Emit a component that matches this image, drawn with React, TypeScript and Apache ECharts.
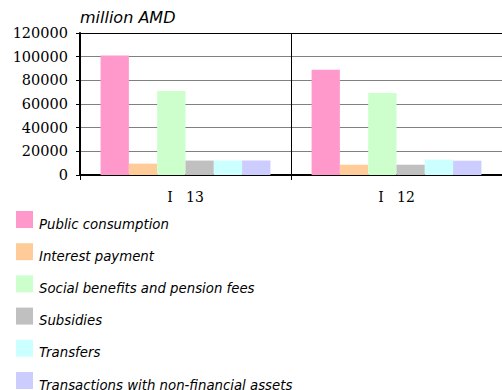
import React, { useEffect, useRef } from "react";
import * as echarts from "echarts";

// Budget expenditure by economic type, million AMD
const periods = ["I   13", "I   12"];
const seriesNames = [
  "Public consumption",
  "Interest payment",
  "Social benefits and pension fees",
  "Subsidies",
  "Transfers",
  "Transactions with non-financial assets",
];
const seriesColors = ["#FF99CC", "#FFCC99", "#CCFFCC", "#C0C0C0", "#CCFFFF", "#CCCCFF"];
const publicConsumption = [101000, 89000];
const interestPayment = [9600, 8700];
const socialBenefits = [71000, 69200];
const subsidies = [12200, 8700];
const transfers = [12200, 13000];
const nonFinancialAssets = [12200, 12100];
const seriesValues = [
  publicConsumption,
  interestPayment,
  socialBenefits,
  subsidies,
  transfers,
  nonFinancialAssets,
];
const unitLabel = "million AMD";

export default function App() {
  const ref = useRef<HTMLDivElement>(null);

  useEffect(() => {
    if (!ref.current) return;
    const chart = echarts.init(ref.current, null, { renderer: "svg" });
    const serif = "DejaVu Serif";
    const sans = "DejaVu Sans";
    chart.setOption({
      animation: false,
      backgroundColor: "#ffffff",
      title: {
        text: unitLabel,
        left: 80,
        top: 9,
        padding: 0,
        textStyle: {
          fontFamily: sans,
          fontStyle: "italic",
          fontWeight: "normal",
          fontSize: 16,
          color: "#000",
        },
      },
      legend: {
        orient: "vertical",
        left: 16,
        top: 211,
        height: 200,
        padding: 0,
        itemWidth: 17,
        itemHeight: 17,
        itemGap: 12.7,
        icon: "rect",
        selectedMode: false,
        data: seriesNames,
        formatter: "{t|{name}}",
        textStyle: {
          fontFamily: sans,
          fontStyle: "italic",
          fontSize: 13.3,
          color: "#000",
          rich: {
            t: {
              fontFamily: sans,
              fontStyle: "italic",
              fontSize: 13.3,
              color: "#000",
              padding: [9, 0, 0, 1],
            },
          },
        },
      },
      grid: {
        left: 80,
        right: -2,
        top: 33,
        height: 142,
        containLabel: false,
      },
      xAxis: {
        type: "category",
        data: periods,
        axisLine: { show: true, lineStyle: { color: "#000", width: 2 } },
        axisTick: { show: true, length: 5, lineStyle: { color: "#000", width: 1 } },
        splitLine: { show: true, lineStyle: { color: "#000", width: 1 } },
        axisLabel: {
          margin: 15,
          fontFamily: serif,
          fontSize: 14,
          color: "#000",
        },
      },
      yAxis: {
        type: "value",
        min: 0,
        max: 120000,
        interval: 20000,
        axisLine: { show: true, lineStyle: { color: "#000", width: 2 } },
        axisTick: { show: true, length: 4, lineStyle: { color: "#000", width: 1 } },
        splitLine: {
          show: true,
          lineStyle: {
            color: ["#808080", "#808080", "#808080", "#808080", "#808080", "#808080", "#000"],
            width: 1.2,
          },
        },
        axisLabel: {
          margin: 12,
          fontFamily: serif,
          fontSize: 14.5,
          color: "#000",
          formatter: (v: number) => String(v),
        },
      },
      series: seriesNames.map((name, i) => ({
        name,
        type: "bar",
        data: seriesValues[i],
        barGap: "0%",
        barCategoryGap: "19.5%",
        itemStyle: { color: seriesColors[i] },
      })),
    });
    return () => chart.dispose();
  }, []);

  return (
    <div
      ref={ref}
      style={{ position: "absolute", left: 0, top: 0, width: 502, height: 390 }}
    />
  );
}
